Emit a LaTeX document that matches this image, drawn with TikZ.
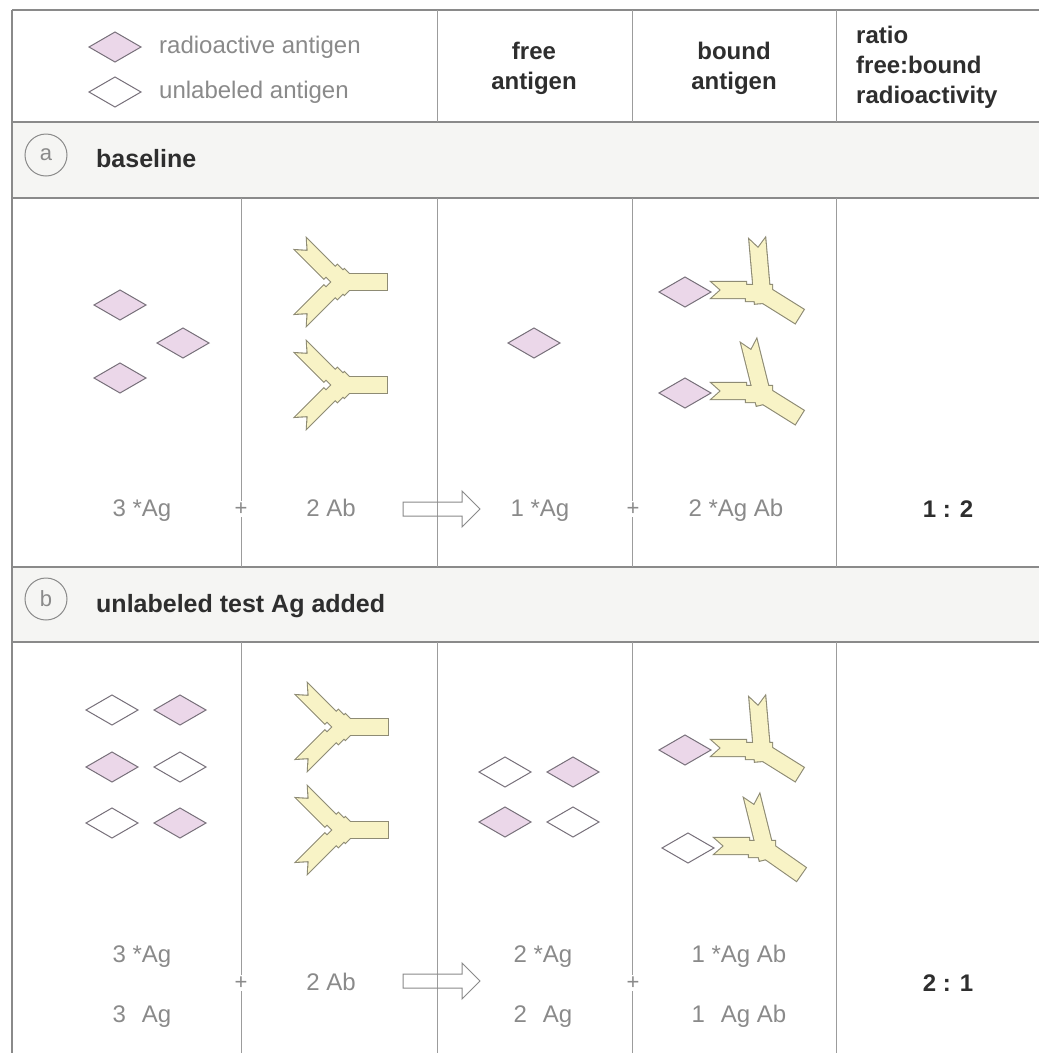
\documentclass[tikz,border=0pt]{standalone}
\usepackage{fontspec}
\setmainfont{Liberation Sans}

\definecolor{rule}{HTML}{8A8A8A}
\definecolor{band}{HTML}{F5F5F3}
\definecolor{agpink}{HTML}{EBD7E9}
\definecolor{agline}{HTML}{77707A}
\definecolor{abfill}{HTML}{F8F3C6}
\definecolor{abline}{HTML}{8E8B74}
\definecolor{eqgrey}{HTML}{8A8A8A}
\definecolor{headtext}{HTML}{2E2E2E}

\tikzset{
  rulebold/.style={draw=rule, line width=1.6pt},
  rulethin/.style={draw=rule!85, line width=0.9pt},
  eq/.style={text=eqgrey, font=\fontsize{24}{28}\selectfont, inner sep=0pt, anchor=base},
  plus/.style={text=eqgrey, font=\fontsize{22}{26}\selectfont, fill=white, inner sep=2pt},
  ratio/.style={text=headtext, font=\fontsize{24}{28}\selectfont\bfseries, inner sep=0pt, anchor=base},
  head/.style={text=headtext, font=\fontsize{24}{30}\selectfont\bfseries, align=center, inner sep=0pt},
  legend/.style={text=eqgrey, font=\fontsize{24}{28}\selectfont, anchor=west, inner sep=0pt},
  bandtitle/.style={text=headtext, font=\fontsize{25}{30}\selectfont\bfseries, anchor=base west, inner sep=0pt},
  tag/.style={circle, draw=rule, line width=1pt, minimum size=42pt, inner sep=0pt,
    text=eqgrey, font=\fontsize{22}{26}\selectfont},
  radio/.style={fill=agpink, draw=agline, line width=1pt},
  cold/.style={fill=white, draw=agline, line width=1pt},
  aboutline/.style={draw=abline, line width=2.2pt, line join=miter},
  abbody/.style={fill=abfill},
  yield/.style={draw=rule, line width=1pt, line join=miter},
}

% one antigen: style, centre
\newcommand{\antigen}[2]{\draw[#1] (#2) +(-26,0) -- +(0,-15) -- +(26,0) -- +(0,15) -- cycle;}

% antibody pieces: style, junction, angle (, length, step)
\newcommand{\abstem}[3]{\path[#1, shift={#2}, rotate=#3] (-8,-8) rectangle (44,8);}
\newcommand{\abarm}[5]{\path[#1, shift={#2}, rotate=#3]
  (-10,-8) -- (16,-8) -- (16,{-8+(#5)}) -- (#4,{-8+(#5)}) -- ({#4-9},{#5})
  -- (#4,{8+(#5)}) -- (16,{8+(#5)}) -- (16,8) -- (-10,8) -- cycle;}
\newcommand{\abparts}[5]{%
  \abstem{#1}{#2}{#3}
  \foreach \ang/\len/\stp in {#4,#5}{\abarm{#1}{#2}{\ang}{\len}{\stp}}}
% junction, stem angle, arm a, arm b (angle/length/step)
\newcommand{\antibody}[4]{\abparts{aboutline}{#1}{#2}{#3}{#4}\abparts{abbody}{#1}{#2}{#3}{#4}}

% hollow reaction arrow from its tail centre
\newcommand{\yieldarrow}[1]{\draw[yield] (#1) +(0,-7) -- +(59,-7) -- +(59,-18) -- +(77,0)
  -- +(59,18) -- +(59,7) -- +(0,7) -- cycle;}

\begin{document}
\begin{tikzpicture}[x=1pt,y=-1pt]
\fill[white] (0,0) rectangle (1039,1053);
\useasboundingbox (0,0) rectangle (1039,1053);

% bands and rules
\fill[band] (12,122) rectangle (1039,198);
\fill[band] (12,567) rectangle (1039,642);
\foreach \y in {10,122,198,567,642} \draw[rulebold] (12,\y)--(1039,\y);
\draw[rulebold] (12,10)--(12,1053);
\foreach \x in {437,632,836} \draw[rulethin] (\x,10)--(\x,122);
\foreach \x in {241,437,632,836}{
  \draw[rulethin] (\x,198)--(\x,567);
  \draw[rulethin] (\x,642)--(\x,1053);}

% header
\antigen{radio}{115,47}
\antigen{cold}{115,92}
\node[legend] (lg-radio) at (159,47) {radioactive antigen};
\node[legend] (lg-cold) at (159,92) {unlabeled antigen};
\node[head] (h-free) at (534,68) {free\\antigen};
\node[head] (h-bound) at (734,68) {bound\\antigen};
\node[head, align=left, anchor=west] (h-ratio) at (856,67) {ratio\\free:bound\\radioactivity};

% (a) baseline
\node[tag] (tag-a) at (46,155) {a};
\node[bandtitle] (title-a) at (96,167) {baseline};

\antigen{radio}{120,305}
\antigen{radio}{183,343}
\antigen{radio}{120,378}
\antibody{(343,282)}{0}{135/56/-3}{225/56/3}
\antibody{(343,385)}{0}{135/56/-3}{225/56/3}
\antigen{radio}{534,343}
\antigen{radio}{685,292}
\antibody{(762,293)}{-32}{180/50/3}{95/54/0}
\antigen{radio}{685,393}
\antibody{(762,394)}{-32}{180/50/3}{104/54/0}

\node[eq] (a-in-ag) at (142,516) {3 *Ag};
\node[plus] (a-plus-in) at (241,509) {+};
\node[eq] (a-in-ab) at (331,516) {2 Ab};
\yieldarrow{403,509}
\node[eq] (a-free) at (540,516) {1 *Ag};
\node[plus] (a-plus-out) at (633,509) {+};
\node[eq] (a-bound) at (736,516) {2 *Ag Ab};
\node[ratio] (a-ratio) at (948,517) {1 : 2};

% (b) unlabeled test antigen added
\node[tag] (tag-b) at (46,599) {b};
\node[bandtitle] (title-b) at (96,612) {unlabeled test Ag added};

\antigen{cold}{112,710}  \antigen{radio}{180,710}
\antigen{radio}{112,767} \antigen{cold}{180,767}
\antigen{cold}{112,823}  \antigen{radio}{180,823}
\antibody{(344,727)}{0}{135/56/-3}{225/56/3}
\antibody{(344,830)}{0}{135/56/-3}{225/56/3}
\antigen{cold}{505,772}  \antigen{radio}{573,772}
\antigen{radio}{505,822} \antigen{cold}{573,822}
\antigen{radio}{685,750}
\antibody{(762,751)}{-32}{180/50/3}{95/54/0}
\antigen{cold}{688,848}
\antibody{(765,849)}{-35}{180/50/3}{104/54/0}

\node[eq] (b-in-ag) at (142,962) {3 *Ag};
\node[eq] (b-in-cold) at (142,1022) {3 \phantom{*}Ag};
\node[plus] (b-plus-in) at (241,983) {+};
\node[eq] (b-in-ab) at (331,990) {2 Ab};
\yieldarrow{403,981}
\node[eq] (b-free) at (543,962) {2 *Ag};
\node[eq] (b-free-cold) at (543,1022) {2 \phantom{*}Ag};
\node[plus] (b-plus-out) at (633,983) {+};
\node[eq] (b-bound) at (739,962) {1 *Ag Ab};
\node[eq] (b-bound-cold) at (739,1022) {1 \phantom{*}Ag Ab};
\node[ratio] (b-ratio) at (948,991) {2 : 1};
\end{tikzpicture}
\end{document}
